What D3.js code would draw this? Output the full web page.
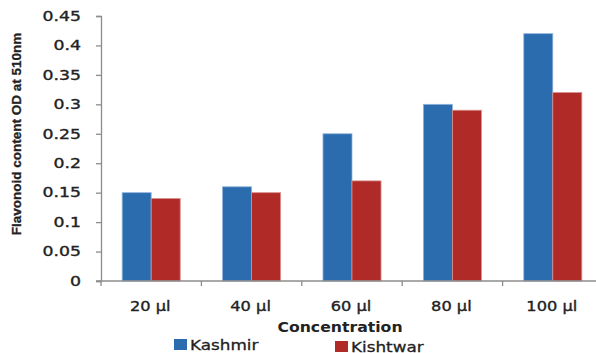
<!DOCTYPE html>
<html>
<head>
<meta charset="utf-8">
<script src="https://cdn.jsdelivr.net/npm/d3@7"></script>
<style>
  body { margin: 0; background: #fff; }
  svg { display: block; }
  text { font-family: "DejaVu Sans", Verdana, sans-serif; fill: #222; }
</style>
</head>
<body>
<svg id="chart" width="596" height="353"></svg>
<script>
// Flavonoid content (OD at 510 nm) by extract concentration
const categories = ["20 µl", "40 µl", "60 µl", "80 µl", "100 µl"];
const kashmir = [0.15, 0.16, 0.25, 0.30, 0.42];
const kishtwar = [0.14, 0.15, 0.17, 0.29, 0.32];
const seriesNames = ["Kashmir", "Kishtwar"];
const seriesColors = ["#2b6cae", "#b02b28"];
const yTicks = [0, 0.05, 0.1, 0.15, 0.2, 0.25, 0.3, 0.35, 0.4, 0.45];

const svg = d3.select("#chart");
const margin = { left: 101, top: 16, plotRight: 603, bottom: 281 };

// widen a text horizontally by a factor, keeping its anchor
function widen(sel, factor) {
  sel.each(function () {
    const w = this.getComputedTextLength();
    this.setAttribute("textLength", w * factor);
    this.setAttribute("lengthAdjust", "spacingAndGlyphs");
  });
}

const x = d3.scaleBand().domain(categories).range([margin.left, margin.plotRight]);
const y = d3.scaleLinear().domain([0, 0.45]).range([margin.bottom, margin.top]);
const inner = d3.scaleBand().domain(seriesNames).range([0, x.bandwidth()]).paddingInner(0).paddingOuter(0.73);

const rows = categories.map((c, i) => ({ cat: c, values: [kashmir[i], kishtwar[i]] }));

// bars
const groups = svg.append("g").selectAll("g").data(rows).join("g")
  .attr("transform", d => `translate(${x(d.cat)},0)`);
groups.selectAll("rect").data(d => d.values.map((v, j) => ({ v, s: seriesNames[j], j })))
  .join("rect")
  .attr("x", d => inner(d.s))
  .attr("width", inner.bandwidth())
  .attr("y", d => y(d.v))
  .attr("height", d => y(0) - y(d.v))
  .attr("fill", d => seriesColors[d.j])
  .attr("stroke", d => d.j === 0 ? "#8fb3dc" : "#d98f8c")
  .attr("stroke-width", 0.8);

// y axis
const yAxis = svg.append("g").attr("transform", `translate(${margin.left},0)`)
  .call(d3.axisLeft(y).tickValues(yTicks).tickFormat(d => String(+d.toFixed(2))).tickSize(5).tickPadding(15));
yAxis.select(".domain").attr("stroke", "#8c8c8c").attr("stroke-width", 1.3);
yAxis.selectAll(".tick line").attr("stroke", "#8c8c8c").attr("stroke-width", 1.3);
yAxis.selectAll(".tick text").attr("font-size", 13.5).attr("fill", "#222")
  .style("font-family", "'DejaVu Sans', Verdana, sans-serif").attr("stroke", "#222").attr("stroke-width", 0.35)
  .call(widen, 1.28);

// x axis
const xAxis = svg.append("g").attr("transform", `translate(0,${margin.bottom})`);
xAxis.append("line").attr("x1", margin.left - 5).attr("x2", margin.plotRight)
  .attr("stroke", "#8c8c8c").attr("stroke-width", 1.3);
const bounds = categories.map(c => x(c)).concat([x(categories[categories.length - 1]) + x.bandwidth()]);
xAxis.selectAll("line.tk").data(bounds).join("line").attr("class", "tk")
  .attr("x1", d => d).attr("x2", d => d).attr("y1", 0).attr("y2", 5)
  .attr("stroke", "#8c8c8c").attr("stroke-width", 1.3);
xAxis.selectAll("text.cat").data(categories).join("text").attr("class", "cat")
  .attr("x", d => x(d) + x.bandwidth() / 2 - 1)
  .attr("y", 30)
  .attr("text-anchor", "middle")
  .attr("font-size", 13.5)
  .attr("stroke", "#222").attr("stroke-width", 0.35)
  .text(d => d)
  .call(widen, 1.2);

// axis titles
svg.append("text")
  .attr("x", 340).attr("y", 332)
  .attr("text-anchor", "middle")
  .attr("font-size", 14).attr("font-weight", "bold")
  .text("Concentration")
  .call(widen, 1.12);

svg.append("text")
  .attr("transform", "translate(21,134) rotate(-90)")
  .attr("text-anchor", "middle")
  .attr("font-size", 13.5).attr("font-weight", "bold")
  .attr("stroke", "#222").attr("stroke-width", 0.3)
  .style("font-family", "'Liberation Sans Narrow', 'Liberation Sans', Arial, sans-serif")
  .text("Flavonoid content OD at 510nm");

// legend
const legendPos = [{ x: 174, y: 339 }, { x: 335, y: 341 }];
const legend = svg.append("g").selectAll("g").data(seriesNames).join("g")
  .attr("transform", (d, i) => `translate(${legendPos[i].x},${legendPos[i].y})`);
legend.append("rect").attr("width", 13).attr("height", 11).attr("fill", (d, i) => seriesColors[i]);
legend.append("text").attr("x", 16).attr("y", 10.5).attr("font-size", 14)
  .attr("stroke", "#222").attr("stroke-width", 0.3)
  .text(d => d)
  .call(widen, 1.2);
</script>
</body>
</html>
